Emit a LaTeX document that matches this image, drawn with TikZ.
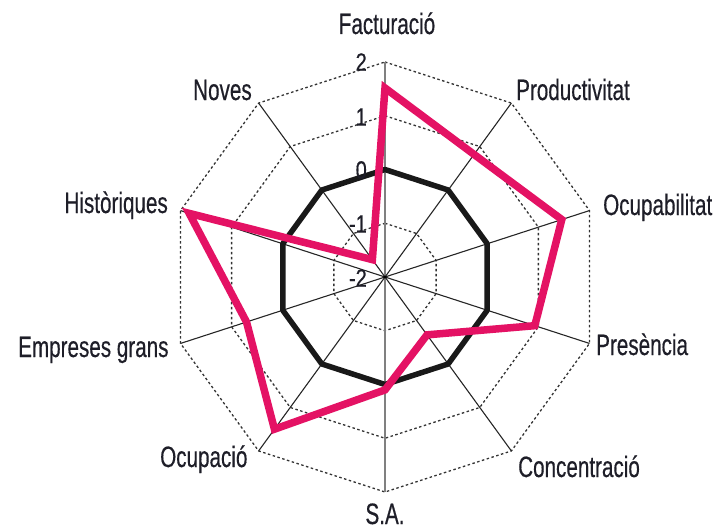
\documentclass[tikz,border=0pt]{standalone}
\usepackage{fontspec}
\setmainfont[FakeStretch=0.7,FakeBold=0.4]{Liberation Sans}
\newfontfamily\numfont[FakeStretch=0.8,FakeBold=0.5]{Liberation Sans}
\definecolor{pinkline}{RGB}{228,18,100}
\definecolor{txt}{RGB}{30,30,40}
\begin{document}
\begin{tikzpicture}[x=1pt,y=-1pt,
  lbl/.style={font=\fontsize{29.5}{31}\selectfont, text=txt, inner sep=0pt},
  num/.style={font=\numfont\fontsize{25}{27}\selectfont, text=txt, inner sep=0pt, anchor=east},
  ring/.style={dash pattern=on 2.5pt off 2.5pt, line width=1.3pt, black!80},
  spoke/.style={line width=1.1pt, black!85},
  zeroring/.style={line width=5.5pt, black!90, line join=round},
  series/.style={line width=7.5pt, pinkline, line join=miter, miter limit=4}]
\useasboundingbox (0,0) rectangle (726,530);
\begin{scope}[shift={(385,277)}, yscale=-1]
  \coordinate (c) at (0,0);
  \foreach \i in {0,...,9} { \coordinate (o\i) at ({90-36*\i}:215); }
  % dashed rings
  \foreach \r in {53.75,161.25,215} {
    \draw[ring] (90:\r) \foreach \i in {1,...,9} { -- ({90-36*\i}:\r) } -- cycle;
  }
  % spokes
  \foreach \i in {1,2,3,4,6,7,8,9} { \draw[spoke] (c) -- (o\i); }
  \draw[spoke, gray] (c) -- (o0);
  \draw[spoke, gray] (c) -- (o5);
  \fill[black] (c) circle (1.8);
  % zero ring
  \draw[zeroring] (90:107.5) \foreach \i in {1,...,9} { -- ({90-36*\i}:107.5) } -- cycle;
  % series
  \coordinate (p0) at (90:189);
  \coordinate (p1) at (54:151.5);
  \coordinate (p2) at (18:185.9);
  \coordinate (p3) at (-18:157.5);
  \coordinate (p4) at (-54:71.5);
  \coordinate (p5) at (-90:112.9);
  \coordinate (p6) at (-126:188.1);
  \coordinate (p7) at (-162:145.6);
  \coordinate (p8) at (162:205.9);
  \coordinate (p9) at (126:21.5);
  \draw[series] (p0) -- (p1) -- (p2) -- (p3) -- (p4) -- (p5) -- (p6) -- (p7) -- (p8) -- (p9) -- cycle;
\end{scope}
% scale numbers
\node[num] (n2) at (367,62) {2};
\node[num] (n1) at (367,117) {1};
\node[num] (n0) at (367,170) {0};
\node[num] (nm1) at (367,224) {-1};
\node[num] (nm2) at (367,278) {-2};
% axis labels
\node[lbl, anchor=base] (fact) at (387,34) {Facturació};
\node[lbl, anchor=base west] (prod) at (516,100) {Productivitat};
\node[lbl, anchor=base west] (ocb) at (603,215) {Ocupabilitat};
\node[lbl, anchor=base west] (pres) at (596,355) {Presència};
\node[lbl, anchor=base west] (conc) at (518,477) {Concentració};
\node[lbl, anchor=base] (sa) at (385,524) {S.A.};
\node[lbl, anchor=base west] (ocp) at (160,467) {Ocupació};
\node[lbl, anchor=base west] (emp) at (18,357) {Empreses grans};
\node[lbl, anchor=base east] (hist) at (168,213) {Històriques};
\node[lbl, anchor=base west] (nov) at (193,100) {Noves};
\end{tikzpicture}
\end{document}
